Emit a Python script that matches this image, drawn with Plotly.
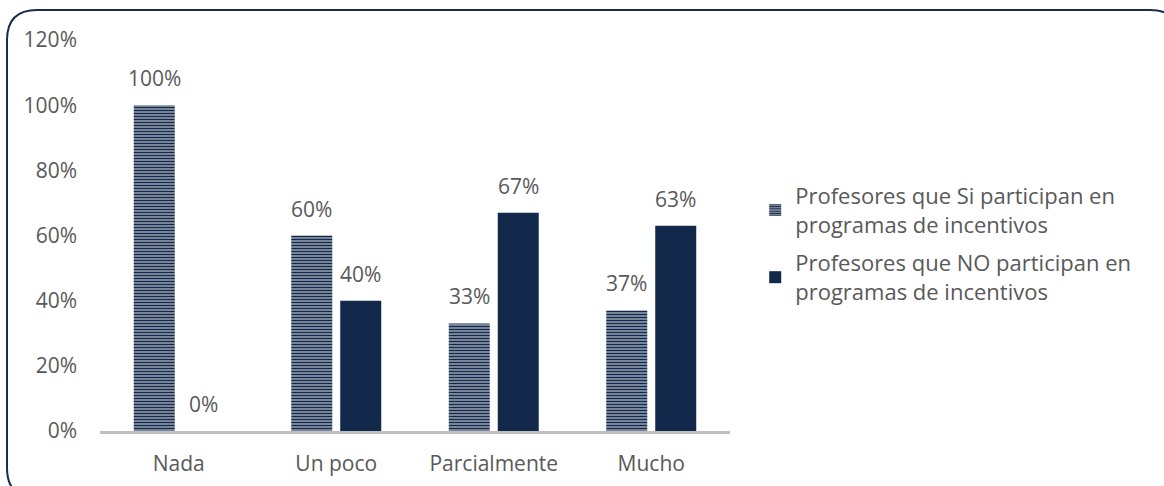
import plotly.graph_objects as go

# Survey categories and percentage of teachers per group
categories = ["Nada", "Un poco", "Parcialmente", "Mucho"]
si_participan = [100, 60, 33, 37]
no_participan = [0, 40, 67, 63]
y_ticks = [0, 20, 40, 60, 80, 100, 120]
y_tick_labels = [f"{v}%" for v in y_ticks]

NAVY = "#13294b"
GREY_TEXT = "#595959"
FONT = "Open Sans"
FS = 21

W, H = 1164, 486
M_L, M_R, M_T, M_B = 100, 434, 40, 55
plot_w = W - M_L - M_R
plot_h = H - M_T - M_B

fig = go.Figure()
fig.add_trace(go.Bar(
    x=categories, y=si_participan,
    name="Profesores que Si participan en<br>programas de incentivos",
    legendgroup="si",
    marker=dict(color=NAVY, line=dict(width=0),
                pattern=dict(shape="-", fgcolor=NAVY, bgcolor="white",
                             fgopacity=1, size=3, solidity=0.72)),
))
fig.add_trace(go.Bar(
    x=categories, y=no_participan,
    name="Profesores que NO participan en<br>programas de incentivos",
    legendgroup="no",
    marker=dict(color=NAVY, line=dict(width=0)),
))

# Value labels above each bar
cat_w = plot_w / len(categories)
bargap, groupgap = 0.378, 0.163
slot = cat_w * (1 - bargap) / 2
for vals, sign in ((si_participan, -1), (no_participan, 1)):
    for c, v in zip(categories, vals):
        fig.add_annotation(x=c, y=v, text=f"{v}%", showarrow=False,
                           xshift=sign * slot / 2, yshift=11, yanchor="bottom",
                           font=dict(family=FONT, size=FS, color=GREY_TEXT))

# Rounded frame around the chart
def px_x(p):
    return (p - M_L) / plot_w

def px_y(p):
    return (H - M_B - p) / plot_h

x0, y0, x1, y1, r = 7, 10, 1180, 498, 30
path = (f"M {px_x(x0)},{px_y(y0 + r)} "
        f"Q {px_x(x0)},{px_y(y0)} {px_x(x0 + r)},{px_y(y0)} "
        f"L {px_x(x1 - r)},{px_y(y0)} "
        f"Q {px_x(x1)},{px_y(y0)} {px_x(x1)},{px_y(y0 + r)} "
        f"L {px_x(x1)},{px_y(y1 - r)} "
        f"Q {px_x(x1)},{px_y(y1)} {px_x(x1 - r)},{px_y(y1)} "
        f"L {px_x(x0 + r)},{px_y(y1)} "
        f"Q {px_x(x0)},{px_y(y1)} {px_x(x0)},{px_y(y1 - r)} Z")
fig.add_shape(type="path", path=path, xref="paper", yref="paper",
              line=dict(color="#1b2d4d", width=2), fillcolor="rgba(0,0,0,0)",
              layer="below")

fig.update_layout(
    width=W, height=H,
    margin=dict(l=M_L, r=M_R, t=M_T, b=M_B, autoexpand=False),
    paper_bgcolor="white", plot_bgcolor="white",
    barmode="group", bargap=bargap, bargroupgap=groupgap,
    font=dict(family=FONT, size=FS, color=GREY_TEXT),
    showlegend=True,
    legend=dict(x=1.04, y=0.655, xanchor="left", yanchor="top",
                tracegroupgap=7, font=dict(family=FONT, size=22, color=GREY_TEXT),
                bgcolor="rgba(0,0,0,0)"),
    xaxis=dict(showline=True, linecolor="#bfbfbf", linewidth=3, automargin=False,
               ticks="", showgrid=False, ticklabelstandoff=12,
               tickfont=dict(size=FS, color=GREY_TEXT)),
    yaxis=dict(range=[0, 120], tickvals=y_ticks, ticktext=y_tick_labels,
               showgrid=False, zeroline=False, showline=False, ticks="",
               ticklabelstandoff=22, automargin=False,
               tickfont=dict(size=FS, color=GREY_TEXT)),
)

fig.write_html("out.html")
